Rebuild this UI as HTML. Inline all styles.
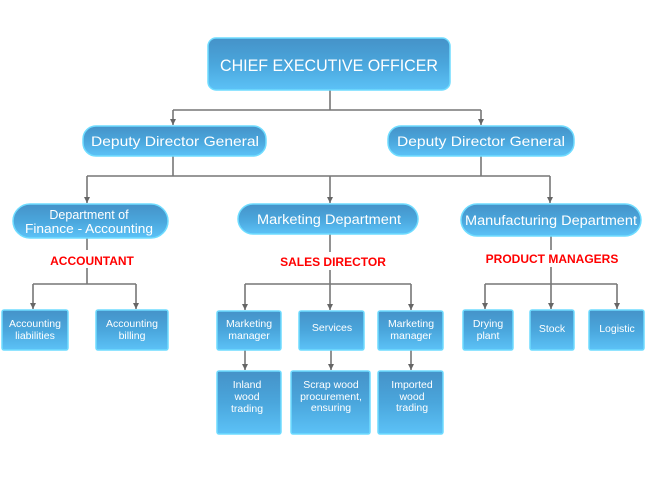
<!DOCTYPE html>
<html><head><meta charset="utf-8"><style>
html,body{margin:0;padding:0;background:#fff;width:650px;height:500px;overflow:hidden}
text{font-family:"Liberation Sans",sans-serif;fill:#fff}
.r{fill:#ff0000;font-weight:bold}
</style></head><body>
<svg width="650" height="500" viewBox="0 0 650 500" xmlns="http://www.w3.org/2000/svg">
<defs>
<linearGradient id="g" x1="0" y1="0" x2="0" y2="1">
<stop offset="0" stop-color="#4592c8"/><stop offset="0.5" stop-color="#4aa6dc"/><stop offset="1" stop-color="#5cc2f7"/></linearGradient>
<marker id="a" markerWidth="7" markerHeight="7" refX="6" refY="3" orient="auto" markerUnits="userSpaceOnUse"><path d="M0,0 L6,3 L0,6 z" fill="#666"/></marker>
</defs>
<g stroke="#777" stroke-width="1.6" fill="none">
<path d="M330 90 V110 M173 110 H481"/>
<path d="M173 110 V125" marker-end="url(#a)"/><path d="M481 110 V125" marker-end="url(#a)"/>
<path d="M173 156 V176 M481 156 V176 M87 176 H550"/>
<path d="M87 176 V203" marker-end="url(#a)"/><path d="M330 176 V203" marker-end="url(#a)"/><path d="M550 176 V203" marker-end="url(#a)"/>
<path d="M87 238 V250 M87 268 V284 M33 284 H136"/>
<path d="M33 284 V309" marker-end="url(#a)"/><path d="M136 284 V309" marker-end="url(#a)"/>
<path d="M330 234 V252 M330 270 V284 M245 284 H411"/>
<path d="M245 284 V310" marker-end="url(#a)"/><path d="M330 284 V310" marker-end="url(#a)"/><path d="M411 284 V310" marker-end="url(#a)"/>
<path d="M245 350 V370" marker-end="url(#a)"/><path d="M331 350 V370" marker-end="url(#a)"/><path d="M411 350 V370" marker-end="url(#a)"/>
<path d="M551 236 V250 M551 267 V284 M485 284 H617"/>
<path d="M485 284 V309" marker-end="url(#a)"/><path d="M551 284 V309" marker-end="url(#a)"/><path d="M617 284 V309" marker-end="url(#a)"/>
</g>
<g fill="url(#g)" stroke="#6fdcff" stroke-width="1.5">
<rect x="208" y="38" width="242" height="52" rx="8"/>
<rect x="83" y="126" width="183" height="30" rx="13"/>
<rect x="388" y="126" width="186" height="30" rx="13"/>
<rect x="13" y="204" width="155" height="34" rx="17"/>
<rect x="238" y="204" width="180" height="30" rx="15"/>
<rect x="461" y="204" width="180" height="32" rx="16"/>
<rect x="2" y="310" width="66" height="40" rx="2"/>
<rect x="96" y="310" width="72" height="40" rx="2"/>
<rect x="217" y="311" width="64" height="39" rx="2"/>
<rect x="299" y="311" width="65" height="39" rx="2"/>
<rect x="378" y="311" width="65" height="39" rx="2"/>
<rect x="217" y="371" width="64" height="63" rx="2"/>
<rect x="291" y="371" width="79" height="63" rx="2"/>
<rect x="378" y="371" width="65" height="63" rx="2"/>
<rect x="463" y="310" width="50" height="40" rx="2"/>
<rect x="530" y="310" width="44" height="40" rx="2"/>
<rect x="589" y="310" width="55" height="40" rx="2"/>
</g>
<g text-anchor="middle">
<text x="329" y="71" font-size="17" textLength="218" lengthAdjust="spacingAndGlyphs">CHIEF EXECUTIVE OFFICER</text>
<text x="175" y="146" font-size="14" textLength="168" lengthAdjust="spacingAndGlyphs">Deputy Director General</text>
<text x="481" y="146" font-size="14" textLength="168" lengthAdjust="spacingAndGlyphs">Deputy Director General</text>
<text x="89" y="219" font-size="12.5">Department of</text>
<text x="89" y="233" font-size="12.5" textLength="128" lengthAdjust="spacingAndGlyphs">Finance - Accounting</text>
<text x="329" y="224" font-size="13.5" textLength="144" lengthAdjust="spacingAndGlyphs">Marketing Department</text>
<text x="551" y="225" font-size="13.5" textLength="172" lengthAdjust="spacingAndGlyphs">Manufacturing Department</text>
<text class="r" x="92" y="265" font-size="12">ACCOUNTANT</text>
<text class="r" x="333" y="266" font-size="12">SALES DIRECTOR</text>
<text class="r" x="552" y="263" font-size="12">PRODUCT MANAGERS</text>
<g font-size="10.5">
<text x="35" y="327">Accounting</text><text x="35" y="339">liabilities</text>
<text x="132" y="327">Accounting</text><text x="132" y="339">billing</text>
<text x="249" y="327">Marketing</text><text x="249" y="339">manager</text>
<text x="332" y="331">Services</text>
<text x="411" y="327">Marketing</text><text x="411" y="339">manager</text>
<text x="247" y="388">Inland</text><text x="247" y="400">wood</text><text x="247" y="412">trading</text>
<text x="331" y="388">Scrap wood</text><text x="331" y="400">procurement,</text><text x="331" y="411">ensuring</text>
<text x="412" y="388">Imported</text><text x="412" y="400">wood</text><text x="412" y="411">trading</text>
<text x="488" y="327">Drying</text><text x="488" y="339">plant</text>
<text x="552" y="332">Stock</text>
<text x="617" y="332">Logistic</text>
</g>
</g>
</svg>
</body></html>
